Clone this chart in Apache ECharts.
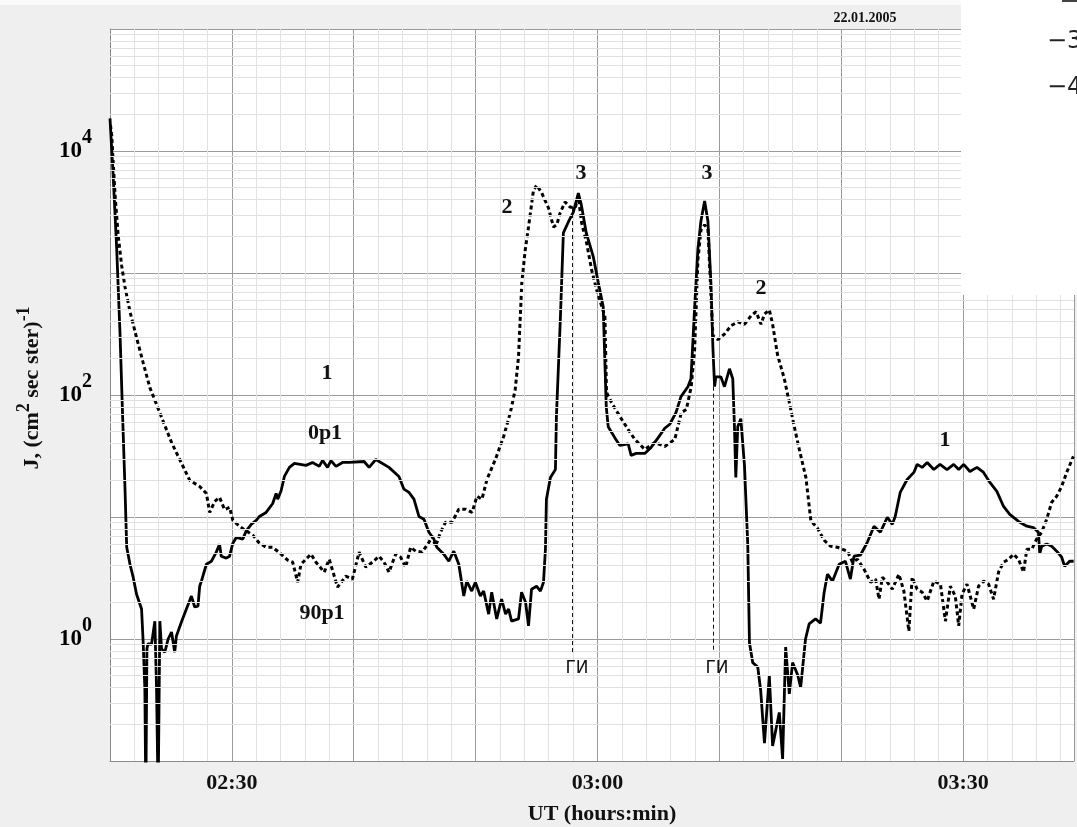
<!DOCTYPE html>
<html>
<head>
<meta charset="utf-8">
<script src="https://cdn.jsdelivr.net/npm/echarts@6/dist/echarts.min.js"></script>
<style>
html,body{margin:0;padding:0;background:#efefef;}
#chart{width:1077px;height:827px;}
</style>
</head>
<body>
<div id="chart"></div>
<script>
// Time in minutes after 00:00 UT (140 = 02:20)
const solidT = [140.0,140.25,140.55,140.82,141.04,141.23,141.37,141.64,141.9,142.18,142.59,142.72,142.86,142.94,143.03,143.11,143.41,143.68,143.82,143.95,144.09,144.23,144.5,144.77,145.05,145.31,145.45,145.86,146.27,146.68,146.95,147.22,147.36,147.5,147.91,148.32,148.72,148.99,149.13,149.54,149.81,150.08,150.36,150.9,151.18,151.59,152.0,152.26,152.81,153.35,153.63,153.76,154.04,154.31,154.72,155.13,156.08,156.62,157.17,157.44,157.85,158.13,158.54,159.08,159.62,160.85,161.26,161.81,162.89,163.71,164.12,164.53,164.94,165.35,165.76,166.17,166.57,166.82,167.39,167.8,168.21,168.62,169.03,169.27,169.68,169.98,170.39,170.66,171.07,171.32,171.73,172.13,172.46,172.71,172.95,173.52,173.77,174.1,174.34,174.59,175.0,175.32,175.57,175.73,175.81,176.14,176.55,176.63,176.96,177.2,177.61,178.02,178.43,178.68,179.08,179.66,180.07,180.47,180.72,180.88,181.43,181.84,182.52,182.76,183.17,183.88,184.4,184.97,185.52,185.93,186.44,186.85,187.42,187.67,187.97,188.24,188.49,188.79,189.06,189.31,189.47,189.61,189.71,190.12,190.42,190.83,191.1,191.24,191.35,191.51,191.76,192.06,192.33,192.47,192.74,193.15,193.39,193.7,194.1,194.37,194.92,195.19,195.44,195.74,196.01,196.42,196.67,197.07,197.37,197.89,198.3,198.6,198.87,199.28,199.83,200.34,200.75,201.05,201.57,202.14,202.69,203.21,203.78,204.19,204.43,204.84,205.41,205.96,206.23,206.64,207.05,207.6,208.11,208.68,209.23,209.64,210.05,210.56,211.14,211.68,212.2,212.77,213.32,213.83,214.55,215.23,215.77,216.18,216.29,216.45,216.86,217.27,217.68,218.09,218.33,218.74,219.07];
const solidV = [18500,6590,1575,324,65,17.2,5.65,4.1,3.21,2.33,1.76,0.95,0.39,0.05,0.83,0.91,0.91,1.4,0.39,0.05,1.4,0.83,0.78,1.0,1.14,0.78,1.06,1.38,1.76,2.25,1.83,1.86,2.71,2.98,4.1,4.34,5.15,5.98,4.77,4.6,4.77,6.1,6.8,6.6,7.7,8.7,9.4,10.1,10.9,12.9,15.6,14.0,16.4,21.5,25.5,27.5,26.5,28,26,29.1,25.5,29,26,28,28,28.5,25.5,29.6,25.5,21.5,16.9,15.9,14.0,10.1,9.6,7.5,6.6,5.65,4.96,4.34,5.25,4.1,2.25,2.98,2.47,2.92,2.25,2.47,1.6,2.42,1.46,2.12,1.6,1.76,1.4,1.46,2.42,2.0,1.28,2.56,2.71,2.47,2.92,5.45,14,21.1,24.5,66.6,438,2130,2620,3160,4520,3600,2130,1355,830,528,80,55,44.5,38.6,39.7,32,33.2,33.2,37.2,44.5,53.4,57.6,71.8,97,117,136,518,1575,2670,3890,2670,815,244,117,141,141,117,164,136,55,21.1,55,64,26.5,5.98,0.93,0.64,0.59,0.38,0.14,0.5,0.133,0.25,0.104,0.86,0.355,0.64,0.51,0.4,1.0,1.33,1.46,1.35,2.42,3.4,2.98,4.1,4.34,3.1,4.77,4.86,6.2,8.4,7.5,9.95,8.7,10.1,15.9,20.3,23.2,27,25.5,28,24.5,27,24.5,27,24.5,27,23.6,25.5,23.2,19.2,16.2,12.2,10.5,9.2,8.4,8.2,7.5,5.0,5.75,6.0,5.75,5.25,4.68,3.95,4.34,4.34];

const dashT = [140.04,140.14,140.41,140.68,140.96,141.23,141.64,142.18,142.72,143.27,143.82,144.5,145.05,145.72,146.54,147.36,147.91,148.18,148.59,148.99,149.4,149.81,150.08,150.63,151.18,151.72,152.26,152.81,153.35,154.04,154.58,154.99,155.4,155.67,156.49,156.9,157.58,157.99,158.67,159.35,159.89,160.44,160.99,161.53,162.08,162.49,162.89,163.44,163.85,164.26,164.67,165.08,165.62,166.17,166.44,166.71,167.12,167.53,168.07,168.62,169.17,169.71,170.11,170.52,170.93,171.62,172.3,172.85,173.25,173.52,173.79,174.07,174.34,174.75,175.02,175.43,175.98,176.39,176.66,176.93,177.34,177.75,178.16,178.43,178.7,179.11,179.52,179.93,180.61,180.74,181.15,181.84,182.52,183.07,183.88,184.7,185.52,186.34,186.88,187.29,187.69,187.97,188.24,188.49,188.79,189.06,189.47,189.88,190.42,190.97,191.51,192.06,192.6,193.01,193.42,193.7,194.1,194.37,194.78,195.33,195.74,196.15,196.56,197.1,197.51,198.05,198.6,199.14,199.69,200.51,200.92,201.33,201.87,202.41,202.82,203.1,203.37,203.78,204.19,204.73,205.14,205.55,205.82,206.23,206.64,207.05,207.6,208.14,208.55,208.95,209.36,209.64,209.91,210.32,210.87,211.27,211.68,212.09,212.5,212.91,213.32,213.73,214.14,214.55,214.96,215.23,215.64,216.04,216.45,216.86,217.27,217.68,218.09,218.5,219.05];
const dashV = [16300,13500,4440,1990,1143,770,481,295,184,115,83.5,56.2,40.8,29.6,20,17.8,15.6,10.9,13.4,14.5,11.5,12,9.4,8.4,7.7,7.1,6.1,5.65,5.65,4.96,4.43,4.26,2.92,4.1,4.96,4.26,3.53,4.5,2.66,3.27,3.1,5.15,3.88,4.26,4.77,4.26,3.53,4.96,4.68,3.88,5.65,5.25,5.15,6.2,6.95,5.75,7.5,9.05,9.05,11.6,11.6,10.9,14.8,14,20.3,29.6,45.7,71.8,111,206,830,1545,2380,4780,5250,4520,3410,2380,2480,3100,3820,3470,3410,4190,2570,1760,1060,728,438,105,86.7,66.6,52.1,43.2,35.8,40.8,37.9,43.2,71.8,76,117,235,1280,2250,2480,2300,306,284,316,370,398,380,446,481,380,460,499,380,212,136,86.7,55,35.8,21.1,9.3,8.1,6.45,5.75,5.65,5.25,4.26,4.5,3.74,2.92,3.1,2.12,3.21,2.92,2.56,3.4,2.47,1.16,3.21,2.56,2.42,2.05,2.98,2.82,1.4,2.71,2.25,1.28,2.33,2.82,1.76,2.71,2.98,2.82,2.12,3.53,4.26,4.5,4.96,4.5,3.53,5.45,5.45,6.6,7.5,9.6,13.2,14.8,17.8,23.2,31.4];

// "ГИ" markers (time, top value, bottom value)
const giTimes = [177.94, 189.47];
const giTop = [3470, 117];
const giBottom = [0.78, 0.78];
const giLabel = 'ГИ';

const xTickLabels = {150: '02:30', 180: '03:00', 210: '03:30'};
const yLabelExponents = [0, 2, 4];

const xMin = 140, xMax = 219.1;

function pairs(t, v){ return t.map((x,i)=>[x, v[i]]); }

const minorY = [];
for (let k = -1; k <= 4; k++) for (let m = 2; m <= 9; m++) minorY.push({yAxis: m * Math.pow(10, k)});

const serif = 'Liberation Serif';
const chart = echarts.init(document.getElementById('chart'), null, {renderer: 'canvas'});

function note(text, x, y, size, family, bold) {
  return {type: 'text', x: x, y: y, z: 10, style: {text: text, fontFamily: family || serif, fontWeight: bold === false ? 'normal' : 'bold', fontSize: size, fill: '#111', textAlign: 'center', textVerticalAlign: 'middle'}};
}

chart.setOption({
  backgroundColor: '#efefef',
  animation: false,
  grid: {left: 110, right: 0, top: 29, bottom: 66, show: true, backgroundColor: '#ffffff', borderWidth: 0},
  xAxis: {
    type: 'value', min: xMin, max: xMax, interval: 10,
    axisLine: {show: true, onZero: false, lineStyle: {color: '#8a8a8a', width: 1}},
    axisTick: {show: false},
    axisLabel: {
      margin: 11, color: '#111', fontFamily: serif, fontWeight: 'bold', fontSize: 22,
      formatter: v => xTickLabels[Math.round(v)] || ''
    },
    splitLine: {show: true, lineStyle: {color: '#9a9a9a', width: 1}},
    minorTick: {show: false, splitNumber: 5},
    minorSplitLine: {show: true, lineStyle: {color: '#e2e2e2', width: 1}}
  },
  yAxis: {
    type: 'log', logBase: 10, min: 0.1, max: 100000,
    axisLine: {show: true, lineStyle: {color: '#8a8a8a', width: 1}},
    axisTick: {show: false},
    axisLabel: {
      margin: 18, color: '#000',
      formatter: v => {
        const e = Math.round(Math.log10(v));
        return yLabelExponents.indexOf(e) >= 0 ? '{b|10}{s|' + e + '}' : '';
      },
      rich: {
        b: {fontFamily: serif, fontWeight: 'bold', fontSize: 23, color: '#000', verticalAlign: 'bottom', padding: [0, 0, 12, 0]},
        s: {fontFamily: serif, fontWeight: 'bold', fontSize: 20, color: '#000', verticalAlign: 'bottom', padding: [0, 0, 27, 0]}
      }
    },
    splitLine: {show: true, lineStyle: {color: '#9a9a9a', width: 1}}
  },
  series: [
    {
      type: 'line', data: [], z: 1, silent: true,
      markLine: {
        silent: true, symbol: 'none', label: {show: false},
        lineStyle: {color: '#e0e0e0', width: 1, type: 'solid'},
        data: minorY, animation: false
      }
    },
    {
      name: '90p1', type: 'line', data: pairs(dashT, dashV), showSymbol: false, symbol: 'none',
      z: 3, clip: true,
      lineStyle: {color: '#000', width: 3, type: [4, 3]}
    },
    {
      name: '0p1', type: 'line', data: pairs(solidT, solidV), showSymbol: false, symbol: 'none',
      z: 4, clip: true,
      lineStyle: {color: '#000', width: 2.8, type: 'solid'}
    },
    {
      type: 'line', data: [], z: 2, silent: true,
      markLine: {
        silent: true, symbol: 'none', label: {show: false},
        lineStyle: {color: '#111', width: 1, type: [4, 3]},
        data: giTimes.map((t, i) => [{coord: [t, giTop[i]]}, {coord: [t, giBottom[i]]}]),
        animation: false
      }
    }
  ],
  graphic: [
    {type: 'rect', shape: {x: 0, y: 0, width: 1077, height: 5}, style: {fill: '#fbfbfb'}, z: 0, silent: true},
    {type: 'text', x: 865, y: 18, style: {text: '22.01.2005', fontFamily: serif, fontWeight: 'bold', fontSize: 14, fill: '#111', textAlign: 'center', textVerticalAlign: 'middle'}},
    {type: 'rect', shape: {x: 961, y: 0, width: 116, height: 295}, style: {fill: '#ffffff'}, z: 100, silent: true},
    {type: 'text', x: 1047, y: 42, z: 101, style: {text: '\u22123', fontFamily: 'DejaVu Sans', fontSize: 24, fill: '#222', textAlign: 'left', textVerticalAlign: 'middle'}},
    {type: 'text', x: 1047, y: 88, z: 101, style: {text: '\u22124', fontFamily: 'DejaVu Sans', fontSize: 24, fill: '#222', textAlign: 'left', textVerticalAlign: 'middle'}},
    {type: 'rect', shape: {x: 1062, y: 0, width: 15, height: 2}, style: {fill: '#444'}, z: 101, silent: true},
    {type: 'text', x: 602, y: 814, style: {text: 'UT (hours:min)', fontFamily: serif, fontWeight: 'bold', fontSize: 22, fill: '#111', textAlign: 'center', textVerticalAlign: 'middle'}},
    {type: 'text', x: 29, y: 388, rotation: Math.PI / 2, style: {
      text: '{a|J, (cm}{s|2}{a| sec ster)}{s|-1}',
      textAlign: 'center', textVerticalAlign: 'middle',
      rich: {
        a: {fontFamily: serif, fontWeight: 'bold', fontSize: 22, fill: '#111', verticalAlign: 'bottom'},
        s: {fontFamily: serif, fontWeight: 'bold', fontSize: 18, fill: '#111', verticalAlign: 'bottom', padding: [0, 0, 10, 0]}
      }
    }},
    note('1', 327, 373, 22),
    note('0p1', 325, 433, 22),
    note('90p1', 322, 613, 22),
    note('2', 507, 207, 22),
    note('3', 581, 173, 22),
    note('3', 707, 173, 22),
    note('2', 761, 288, 22),
    note('1', 945, 440, 22),
    note(giLabel, 577, 669, 17, 'DejaVu Sans', false),
    note(giLabel, 717, 669, 17, 'DejaVu Sans', false)
  ]
});
</script>
</body>
</html>
